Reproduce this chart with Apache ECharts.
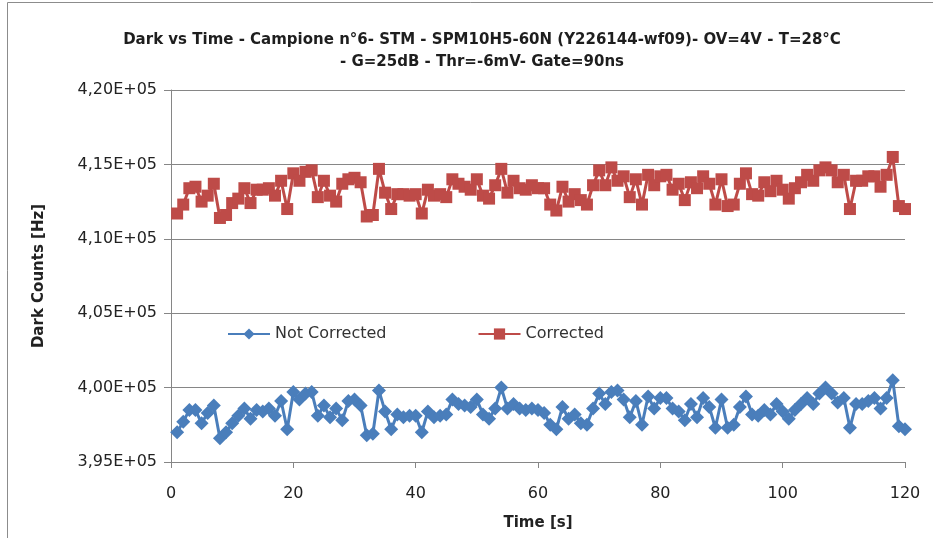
<!DOCTYPE html>
<html>
<head>
<meta charset="utf-8">
<script src="https://cdn.jsdelivr.net/npm/echarts@6/dist/echarts.min.js"></script>
<style>html,body{margin:0;padding:0;background:#fff}#c{width:933px;height:538px}</style>
</head>
<body>
<div id="c"></div>
<script>
const titleLines = ["Dark vs Time - Campione n°6- STM - SPM10H5-60N (Y226144-wf09)- OV=4V - T=28°C", "- G=25dB - Thr=-6mV- Gate=90ns"];
const xAxisName = "Time [s]";
const yAxisName = "Dark Counts [Hz]";
const seriesNames = ["Not Corrected", "Corrected"];
const xTicks = [0, 20, 40, 60, 80, 100, 120];
const yTicks = [395000, 400000, 405000, 410000, 415000, 420000];
const time = [];
for (let i = 1; i <= 120; i++) time.push(i);
// values in thousands of Hz
const notCorrectedK = [
397.0,397.7,398.5,398.5,397.6,398.3,398.8,396.6,397.0,397.6,
398.1,398.6,397.9,398.5,398.4,398.6,398.1,399.1,397.2,399.7,
399.2,399.6,399.7,398.1,398.8,398.0,398.6,397.8,399.1,399.2,
398.8,396.8,396.9,399.8,398.4,397.2,398.2,398.0,398.1,398.1,
397.0,398.4,398.0,398.1,398.2,399.2,398.9,398.8,398.7,399.2,
398.2,397.9,398.6,400.0,398.6,398.9,398.6,398.5,398.6,398.5,
398.3,397.5,397.2,398.7,397.9,398.2,397.6,397.5,398.6,399.6,
398.9,399.7,399.8,399.2,398.0,399.1,397.5,399.4,398.6,399.3,
399.3,398.6,398.4,397.8,398.9,398.0,399.3,398.7,397.3,399.2,
397.3,397.5,398.7,399.4,398.2,398.1,398.5,398.2,398.9,398.4,
397.9,398.5,398.9,399.3,398.9,399.6,400.0,399.6,399.0,399.3,
397.3,398.9,398.9,399.1,399.3,398.6,399.3,400.5,397.4,397.2];
const correctedK = [
411.7,412.3,413.4,413.5,412.5,412.9,413.7,411.4,411.6,412.4,
412.7,413.4,412.4,413.3,413.3,413.4,412.9,413.9,412.0,414.4,
413.9,414.5,414.6,412.8,413.9,412.9,412.5,413.7,414.0,414.1,
413.8,411.5,411.6,414.7,413.1,412.0,413.0,413.0,412.9,413.0,
411.7,413.3,412.9,413.0,412.8,414.0,413.7,413.5,413.3,414.0,
412.9,412.7,413.6,414.7,413.1,413.9,413.4,413.3,413.6,413.4,
413.4,412.3,411.9,413.5,412.5,413.0,412.6,412.3,413.6,414.6,
413.6,414.8,413.9,414.2,412.8,414.0,412.3,414.3,413.6,414.2,
414.3,413.3,413.7,412.6,413.8,413.4,414.2,413.7,412.3,414.0,
412.2,412.3,413.7,414.4,413.0,412.9,413.8,413.2,413.9,413.3,
412.7,413.4,413.8,414.3,413.9,414.6,414.8,414.6,413.8,414.3,
412.0,413.9,413.9,414.2,414.2,413.5,414.3,415.5,412.2,412.0];

const blueData = time.map((t, i) => [t, notCorrectedK[i] * 1000]);
const redData = time.map((t, i) => [t, correctedK[i] * 1000]);

const FONT = "DejaVu Sans";
const chart = echarts.init(document.getElementById('c'), null, {renderer: 'canvas'});
chart.setOption({
  animation: false,
  backgroundColor: '#fff',
  textStyle: {fontFamily: FONT},
  title: {
    text: titleLines.join('\n'),
    left: 477, textAlign: 'center', top: 24,
    textStyle: {fontFamily: FONT, fontSize: 15, fontWeight: 'bold', color: '#1e1e1e', lineHeight: 22}
  },
  graphic: [
    {type: 'line', shape: {x1: 7.5, y1: 2.5, x2: 933, y2: 2.5}, style: {stroke: '#8c8c8c', lineWidth: 1}},
    {type: 'line', shape: {x1: 7.5, y1: 2.5, x2: 7.5, y2: 538}, style: {stroke: '#8c8c8c', lineWidth: 1}}
  ],
  legend: {
    left: 222, top: 321,
    itemWidth: 42, itemHeight: 14, itemGap: 91,
    data: seriesNames,
    textStyle: {fontFamily: FONT, fontSize: 16, color: '#333'}
  },
  grid: {left: 171, right: 28, top: 90, bottom: 76},
  xAxis: {
    type: 'value', min: xTicks[0], max: xTicks[xTicks.length - 1], interval: 20,
    name: xAxisName, nameLocation: 'middle', nameGap: 54,
    nameTextStyle: {fontFamily: FONT, fontSize: 15, fontWeight: 'bold', color: '#222'},
    axisLine: {lineStyle: {color: '#868686'}},
    axisTick: {show: true, length: 6, lineStyle: {color: '#868686'}},
    axisLabel: {fontFamily: FONT, fontSize: 16, color: '#222', margin: 24},
    splitLine: {show: false}
  },
  yAxis: {
    type: 'value', min: yTicks[0], max: yTicks[yTicks.length - 1], interval: 5000,
    name: yAxisName, nameLocation: 'middle', nameGap: 124,
    nameTextStyle: {fontFamily: FONT, fontSize: 15, fontWeight: 'bold', color: '#222'},
    axisLine: {show: true, lineStyle: {color: '#868686'}},
    axisTick: {show: true, length: 7, lineStyle: {color: '#868686'}},
    axisLabel: {fontFamily: FONT, fontSize: 16, color: '#222', margin: 14,
      formatter: v => (v / 1e5).toFixed(2).replace('.', ',') + 'E+05'},
    splitLine: {show: true, lineStyle: {color: '#868686', width: 1}}
  },
  series: [
    {name: seriesNames[0], type: 'line', data: blueData, symbol: 'diamond', symbolSize: 14,
     color: '#4a7ebb', lineStyle: {width: 3, color: '#4a7ebb'}, itemStyle: {color: '#4a7ebb'}},
    {name: seriesNames[1], type: 'line', data: redData, symbol: 'rect', symbolSize: 12,
     color: '#be4b48', lineStyle: {width: 3, color: '#be4b48'}, itemStyle: {color: '#be4b48'}}
  ]
});
</script>
</body>
</html>
